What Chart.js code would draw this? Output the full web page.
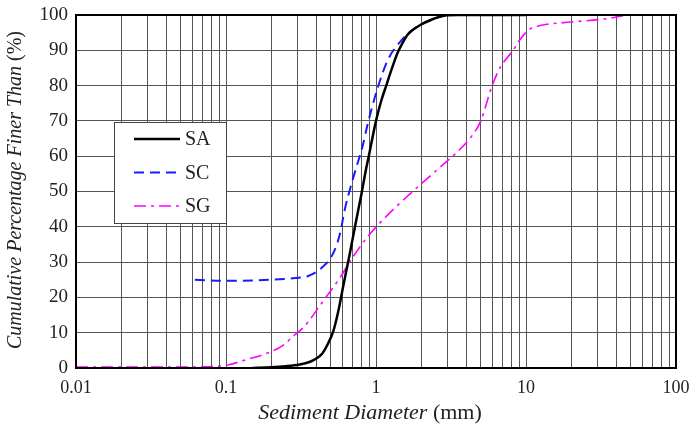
<!DOCTYPE html>
<html>
<head>
<meta charset="utf-8">
<script src="https://cdn.jsdelivr.net/npm/chart.js@4/dist/chart.umd.min.js"></script>
<style>
  html, body { margin: 0; padding: 0; background: #fff; }
  #wrap { width: 690px; height: 427px; }
</style>
</head>
<body>
<div id="wrap"><canvas id="gsd"></canvas></div>
<script>
// grain size distribution curves
const sizeSA = [0.15, 0.2, 0.25, 0.31, 0.36, 0.4, 0.44, 0.48, 0.52, 0.56, 0.61, 0.67, 0.73, 0.8, 0.86, 0.9, 1.0, 1.08, 1.17, 1.28, 1.4, 1.5, 1.63, 2.0, 2.38, 2.95, 3.5, 10];
const finerSA = [0, 0.2, 0.5, 1, 1.7, 2.7, 4.2, 7, 10.5, 16, 24, 32.6, 40.8, 49.3, 56.5, 60.5, 70, 75.5, 80, 85, 89.5, 92, 94.5, 97.3, 98.8, 99.9, 100, 100];

const sizeSC = [0.062, 0.1, 0.15, 0.2, 0.29, 0.35, 0.44, 0.52, 0.575, 0.62, 0.69, 0.76, 0.81, 0.885, 1.02, 1.2, 1.49, 1.82, 2.36, 2.97, 4, 10];
const finerSC = [25, 24.7, 24.8, 25, 25.5, 26, 28.6, 32.6, 38, 45, 52.5, 58.5, 62.5, 69.5, 79, 87.3, 93, 96.3, 98.6, 100, 100, 100];

const sizeSG = [0.01, 0.03, 0.06, 0.09, 0.106, 0.14, 0.175, 0.24, 0.28, 0.33, 0.44, 0.58, 0.7, 0.9, 1.24, 1.52, 2.5, 3.6, 4.4, 5.0, 5.9, 6.7, 8.2, 9.1, 10.6, 12.4, 20, 35, 47];
const finerSG = [0.3, 0.3, 0.3, 0.5, 1, 2.5, 3.7, 6.4, 9, 11.6, 18.7, 25.8, 31.4, 37.7, 44, 47.6, 55.8, 61.8, 66, 70, 79.6, 85, 90, 93, 96, 97, 98, 99, 100];

const seriesNames = ["SA", "SC", "SG"];
const xMajors = [0.01, 0.1, 1, 10, 100];
const xTickLabels = ["0.01", "0.1", "1", "10", "100"];

const FONT = "'Liberation Serif', 'Times New Roman', serif";

const pts = (xs, ys) => xs.map((x, i) => ({ x: x, y: ys[i] }));

// every 1..9 step of each decade gets a grid line
const xGridVals = [];
for (let e = -2; e <= 2; e++) {
  for (let d = 1; d <= 9; d++) {
    const v = Number((d * Math.pow(10, e)).toPrecision(3));
    if (v <= 100) xGridVals.push(v);
  }
}

const frame = {
  id: "frame",
  afterDraw(chart) {
    const { ctx, chartArea: a } = chart;
    ctx.save();
    ctx.strokeStyle = "#000";
    ctx.lineWidth = 2;
    ctx.strokeRect(a.left, a.top, a.right - a.left, a.bottom - a.top);
    ctx.restore();
  }
};

// mixed italic / upright axis titles
const titles = {
  id: "titles",
  afterDraw(chart) {
    const ctx = chart.ctx;
    const drawMixed = (parts, cx, cy, rot) => {
      ctx.save();
      ctx.translate(cx, cy);
      ctx.rotate(rot);
      ctx.fillStyle = "#222";
      ctx.textBaseline = "middle";
      let total = 0;
      parts.forEach(p => { ctx.font = p.font; total += ctx.measureText(p.text).width; });
      let x = -total / 2;
      parts.forEach(p => {
        ctx.font = p.font;
        ctx.fillText(p.text, x, 0);
        x += ctx.measureText(p.text).width;
      });
      ctx.restore();
    };
    drawMixed([
      { text: "Sediment Diameter ", font: "italic 22px " + FONT },
      { text: "(mm)", font: "22px " + FONT }
    ], 370, 413, 0);
    drawMixed([
      { text: "Cumulative Percentage Finer Than ", font: "italic 20px " + FONT },
      { text: "(%)", font: "20px " + FONT }
    ], 16, 190, -Math.PI / 2);
  }
};

const boxLegend = {
  id: "boxLegend",
  afterDatasetsDraw(chart) {
    const ctx = chart.ctx;
    const bx = 114, by = 122, bw = 112, bh = 101;
    ctx.save();
    ctx.fillStyle = "#fff";
    ctx.fillRect(bx, by, bw, bh);
    ctx.strokeStyle = "#444";
    ctx.lineWidth = 1;
    ctx.strokeRect(bx + 0.5, by + 0.5, bw, bh);
    chart.data.datasets.forEach((ds, i) => {
      const y = 139 + i * 33.5;
      ctx.strokeStyle = ds.borderColor;
      ctx.lineWidth = ds.borderWidth;
      ctx.setLineDash(ds.borderDash || []);
      ctx.beginPath();
      ctx.moveTo(134, y);
      ctx.lineTo(180, y);
      ctx.stroke();
      ctx.setLineDash([]);
      ctx.fillStyle = "#222";
      ctx.font = "20px " + FONT;
      ctx.textBaseline = "middle";
      ctx.fillText(ds.label, 185, y + 1);
    });
    ctx.restore();
  }
};

new Chart(document.getElementById("gsd"), {
  type: "line",
  data: {
    datasets: [
      {
        label: seriesNames[0],
        data: pts(sizeSA, finerSA),
        borderColor: "#000",
        borderWidth: 2.5,
        pointRadius: 0,
        cubicInterpolationMode: "monotone",
        fill: false
      },
      {
        label: seriesNames[1],
        data: pts(sizeSC, finerSC),
        borderColor: "#1a1aff",
        borderWidth: 2,
        borderDash: [10, 6],
        pointRadius: 0,
        cubicInterpolationMode: "monotone",
        fill: false
      },
      {
        label: seriesNames[2],
        data: pts(sizeSG, finerSG),
        borderColor: "#ff00ff",
        borderWidth: 1.6,
        borderDash: [12, 5, 3, 5],
        pointRadius: 0,
        cubicInterpolationMode: "monotone",
        fill: false
      }
    ]
  },
  options: {
    responsive: true,
    maintainAspectRatio: false,
    animation: false,
    layout: { padding: { left: 0, right: 14, top: 15, bottom: 0 } },
    plugins: {
      legend: { display: false },
      tooltip: { enabled: false }
    },
    scales: {
      x: {
        type: "logarithmic",
        min: 0.01,
        max: 100,
        afterBuildTicks: (scale) => {
          scale.ticks = xGridVals.map(v => ({ value: v }));
        },
        afterFit: (scale) => {
          scale.height = 59;
          scale.paddingLeft = 0;
          scale.paddingRight = 0;
        },
        grid: { color: "#555", lineWidth: 1, drawTicks: false },
        border: { display: false },
        ticks: {
          autoSkip: false,
          maxRotation: 0,
          padding: 9,
          color: "#222",
          font: { family: FONT, size: 18 },
          callback: (val) => {
            const i = xMajors.indexOf(Number(Number(val).toPrecision(3)));
            return i >= 0 ? xTickLabels[i] : "";
          }
        }
      },
      y: {
        min: 0,
        max: 100,
        afterFit: (scale) => {
          scale.width = 76;
          scale.paddingTop = 0;
          scale.paddingBottom = 0;
        },
        grid: { color: "#555", lineWidth: 1, drawTicks: false },
        border: { display: false },
        ticks: {
          stepSize: 10,
          padding: 8,
          color: "#222",
          font: { family: FONT, size: 19 }
        }
      }
    }
  },
  plugins: [boxLegend, frame, titles]
});
</script>
</body>
</html>
